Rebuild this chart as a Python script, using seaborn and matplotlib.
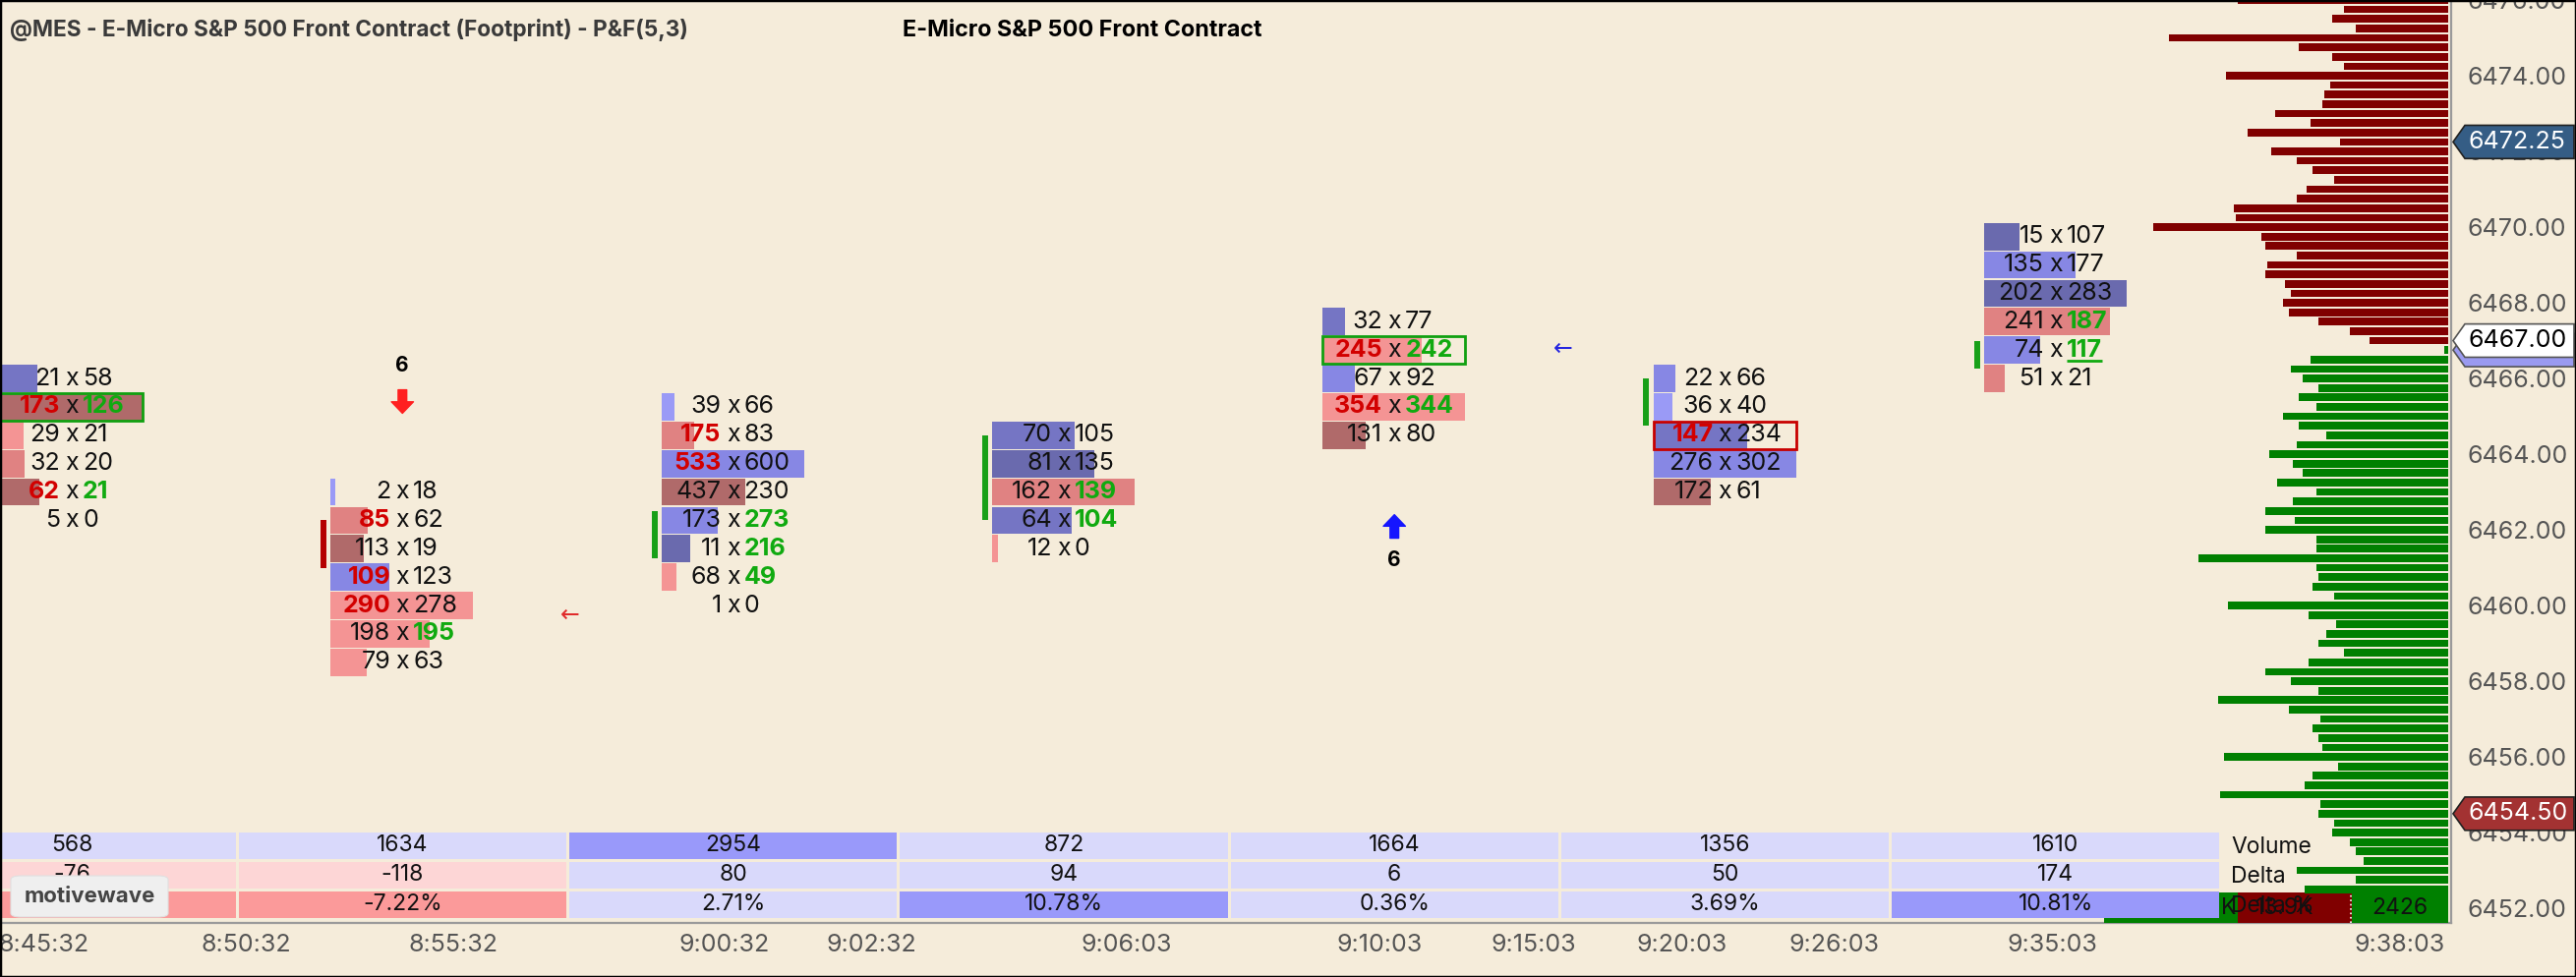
import numpy as np
import pandas as pd
import matplotlib
matplotlib.use('Agg')
import matplotlib.pyplot as plt
import matplotlib.transforms as mtransforms
from matplotlib.patches import Rectangle, Polygon, FancyBboxPatch
import seaborn as sns

# ---------------- data ----------------
chart_title = '@MES - E-Micro S&P 500 Front Contract (Footprint) - P&F(5,3)'
instrument = 'E-Micro S&P 500 Front Contract'

box_size = 0.75
col_top = [6466.0, 6463.0, 6465.25, 6464.5, 6467.5, 6466.0, 6469.75]
col_bid = [[21, 173, 29, 32, 62, 5],
           [2, 85, 113, 109, 290, 198, 79],
           [39, 175, 533, 437, 173, 11, 68, 1],
           [70, 81, 162, 64, 12],
           [32, 245, 67, 354, 131],
           [22, 36, 147, 276, 172],
           [15, 135, 202, 241, 74, 51]]
col_ask = [[58, 126, 21, 20, 21, 0],
           [18, 62, 19, 123, 278, 195, 63],
           [66, 83, 600, 230, 273, 216, 49, 0],
           [105, 135, 139, 104, 0],
           [77, 242, 92, 344, 80],
           [66, 40, 234, 302, 61],
           [107, 177, 283, 187, 117, 21]]
# cell shade: + blue (ask side), - red (bid side), 1 = light .. 4 = dark
col_shade = [[3, -3, -1, -2, -3, -1],
             [1, -2, -3, 2, -1, -1, -1],
             [1, -2, 2, -3, 2, 4, -1, -1],
             [3, 4, -2, 3, -1],
             [3, -1, 2, -1, -3],
             [2, 1, 3, 2, -3],
             [4, 2, 4, -2, 2, -2]]
bid_hl = [[1, 4], [1, 3, 4], [1, 2], [], [1, 3], [2], []]
ask_hl = [[1, 4], [5], [4, 5, 6], [2, 3], [1, 3], [], [3, 4]]
ask_underline = (6, 4)
box_rows = [(0, 1, 'green'), (4, 1, 'green'), (5, 2, 'red')]
signals = [(1, 6462.25, 6461.0, 'red'), (2, 6462.5, 6461.25, 'green'),
           (3, 6464.5, 6462.25, 'green'), (5, 6466.0, 6464.75, 'green'),
           (6, 6467.0, 6466.25, 'green')]
# reversal arrows: column, tail price, tip price, count label price
reversals = [(1, 6465.70, 6465.08, 6466.35, 'red'), (4, 6461.78, 6462.40, 6461.20, 'blue')]
box_count = 6
small_arrows = [(1.508, 6459.75, 'red'), (4.51, 6466.78, 'blue')]

time_labels = ['8:45:32', '8:50:32', '8:55:32', '9:00:32', '9:02:32', '9:06:03',
               '9:10:03', '9:15:03', '9:20:03', '9:26:03', '9:35:03', '9:38:03']
time_pos = [-0.086, 0.526, 1.154, 1.974, 2.42, 3.19, 3.955, 4.42, 4.87, 5.33, 5.99, 7.04]

bar_volume = [568, 1634, 2954, 872, 1664, 1356, 1610]
bar_delta = [-76, -118, 80, 94, 6, 50, 174]
table_rows = ['Volume', 'Delta', 'Delta %']

profile_top = 6476.0
profile_vol = [214, 106, 118, 94, 284, 152, 118, 106, 226, 120,
               126, 128, 176, 140, 204, 110, 180, 154, 138, 116,
               144, 154, 218, 216, 300, 190, 186, 154, 184, 186,
               166, 160, 168, 162, 132, 100, 80,
               4, 140, 160, 148, 132, 152, 134, 168, 152, 124,
               154, 182, 158, 148, 174, 134,
               158, 186, 156, 186, 134, 134, 254, 134, 132, 138,
               116, 224, 142, 114, 124, 132, 106, 142, 186, 160,
               132, 234, 162, 130, 138, 132, 128, 228, 112, 138,
               146, 232, 130, 132, 116, 118, 100, 94, 86, 154,
               94, 146]
last_price = 6467.00
footer_width = [98, 116, 136]
footer_text = ['2426', '13.9K', 'K']

tag_prices = [6472.25, 6466.75, 6467.00, 6454.50]
tag_colors = ['#355d85', '#9a9af0', '#ffffff', '#a33232']
tag_text_colors = ['white', 'black', 'black', 'white']

# ---------------- layout (pixels of the 2620x994 picture) ----------------
W, H = 2620, 994
PLOT_R, PLOT_B = 2493, 939
PX_COL, COL0 = 336.3, 73
PX_PT, Y6474 = 38.67, 73.3
BG = '#f5ecda'

shade_colors = {1: '#9a9af6', 2: '#8787e4', 3: '#7575c4', 4: '#6a6aae',
                -1: '#f49494', -2: '#e08282', -3: '#b06a6a'}
hl_colors = {'red': '#d20000', 'green': '#10aa10'}
sig_colors = {'red': '#b40000', 'green': '#18a018'}
arrow_colors = {'red': '#ff2020', 'blue': '#1515ff'}
small_colors = {'red': '#e02a2a', 'blue': '#2424e0'}

sns.set_theme(style='white')
plt.rcParams['font.family'] = ['Inter', 'DejaVu Sans']

fig = plt.figure(figsize=(W / 100, H / 100), dpi=100, facecolor=BG)
ax = fig.add_axes([0, (H - PLOT_B) / H, PLOT_R / W, PLOT_B / H], facecolor=BG)

xlim = (-COL0 / PX_COL, (PLOT_R - COL0) / PX_COL)
ylim = (6474 - (PLOT_B - Y6474) / PX_PT, 6474 + Y6474 / PX_PT)

# ---------------- footprint columns ----------------
bar_off = 73 / PX_COL
bar_max = 145 / PX_COL
row_h = 0.72
fp_size = 18
underline_txt = None
for k in range(len(col_top)):
    bids = np.array(col_bid[k])
    asks = np.array(col_ask[k])
    vols = bids + asks
    prices = col_top[k] - box_size * np.arange(len(bids))
    widths = vols / vols.max() * bar_max
    ax.barh(prices, widths, left=k - bar_off, height=row_h,
            color=[shade_colors[s] for s in col_shade[k]], linewidth=0, zorder=2)
    for i, (b, a, p) in enumerate(zip(bids, asks, prices)):
        hb = i in bid_hl[k]
        hs = i in ask_hl[k]
        ax.text(k - 12 / PX_COL, p, str(b), ha='right', va='center', fontsize=fp_size,
                color=hl_colors['red'] if hb else '#111111',
                fontweight='bold' if hb else 'normal', zorder=4)
        ax.text(k, p, 'x', ha='center', va='center', fontsize=fp_size, color='#111111', zorder=4)
        t = ax.text(k + 11 / PX_COL, p, str(a), ha='left', va='center', fontsize=fp_size,
                    color=hl_colors['green'] if hs else '#111111',
                    fontweight='bold' if hs else 'normal', zorder=4)
        if (k, i) == ask_underline:
            underline_txt = (t, p)

for k, i, c in box_rows:
    p = col_top[k] - box_size * i
    ax.add_patch(Rectangle((k - bar_off, p - row_h / 2), bar_max, row_h, fill=False,
                           ec='#10a010' if c == 'green' else '#c80000', lw=2, zorder=3))

for k, top, bot, c in signals:
    ax.vlines(k - bar_off - 7 / PX_COL, bot, top, color=sig_colors[c], lw=4.3, zorder=3)

for k, tail, tip, lab, c in reversals:
    ax.annotate('', xy=(k, tip), xytext=(k, tail),
                arrowprops=dict(arrowstyle='simple,head_length=0.6,head_width=1.15,tail_width=0.45',
                                color=arrow_colors[c], shrinkA=0, shrinkB=0, mutation_scale=14))
    ax.text(k, lab, str(box_count), ha='center', va='center', fontsize=15,
            fontweight='bold', color='black')

for x, p, c in small_arrows:
    ax.text(x, p, '\u2190', ha='center', va='center', fontsize=17, color=small_colors[c],
            family=['DejaVu Sans'])

# ---------------- bottom table ----------------
tb = mtransforms.blended_transform_factory(ax.transData, ax.transAxes)
cell_h = 27 / PLOT_B
pitch = 30 / PLOT_B
base = 5 / PLOT_B
gap = 1.5 / PX_COL
vmax = max(bar_volume)
for k in range(len(bar_volume)):
    vol, d = bar_volume[k], bar_delta[k]
    pct = d / vol * 100
    cells = [
        (f'{vol}', '#9999fa' if vol == vmax else '#d9d9fb'),
        (f'{d}', '#fdd6d6' if d < 0 else '#d9d9fb'),
        (f'{pct:.2f}%', ('#fb9a9a' if pct < -5 else '#9999fa') if abs(pct) > 5
         else ('#fdd6d6' if pct < 0 else '#d9d9fb')),
    ]
    for r, (txt, col) in enumerate(cells):
        y0 = base + (2 - r) * pitch
        ax.add_patch(Rectangle((k - 0.5 + gap, y0), 1 - 2 * gap, cell_h, transform=tb,
                               color=col, lw=0, zorder=6))
        ax.text(k, y0 + cell_h / 2, txt, transform=tb, ha='center', va='center',
                fontsize=16.5, color='#111111', zorder=7)
for r, name in enumerate(table_rows):
    y0 = base + (2 - r) * pitch
    ax.text(len(bar_volume) - 0.5 + 10 / PX_COL, y0 + cell_h / 2 - 0.002, name, transform=tb,
            ha='left', va='center', fontsize=16.5, color='#111111', zorder=7)

# ---------------- volume profile (seaborn) ----------------
profile_price = profile_top - 0.25 * np.arange(len(profile_vol))
prof = pd.DataFrame({'price': profile_price, 'volume': profile_vol})
prof['side'] = np.where(prof['price'] >= last_price, 'above', 'below')
ax2 = ax.twiny()
sns.barplot(data=prof, x='volume', y='price', hue='side', orient='h', native_scale=True,
            palette={'above': '#800000', 'below': '#008000'}, saturation=1, width=0.8,
            dodge=False, errorbar=None, legend=False, linewidth=0, ax=ax2)
ax2.set_xlim(PLOT_R - 3, -3)
ax2.xaxis.set_visible(False)
for s in ax2.spines.values():
    s.set_visible(False)

# profile footer (drawn on the main axes so the table stays on top)
fb = mtransforms.blended_transform_factory(ax2.transData, ax.transAxes)
foot_h = (PLOT_B - 908) / PLOT_B
foot_cols = ['#008000', '#800000', '#008000']
x0 = 0
for w, c, txt in zip(footer_width, foot_cols, footer_text):
    ax.add_patch(Rectangle((x0, 0), w, foot_h, transform=fb, color=c, lw=0, zorder=5))
    if txt == 'K':
        ax.text(x0 + 2, foot_h / 2, txt, transform=fb, ha='right', va='center',
                fontsize=16.5, color='#111111', zorder=5.5)
    else:
        ax.text(x0 + w / 2 + (10 if c == '#800000' else 0), foot_h / 2, txt, transform=fb,
                ha='center', va='center', fontsize=16.5, color='#111111', zorder=5.5)
    x0 += w
ax.plot([footer_width[0] + 1] * 2, [0, foot_h], transform=fb, color='white', lw=1.2,
        ls=':', zorder=5.6)

# ---------------- axes styling ----------------
ax.set_xlim(*xlim)
ax.set_ylim(*ylim)
ax.set_xticks(time_pos, time_labels)
ax.yaxis.tick_right()
ax.set_yticks(np.arange(6452, 6477, 2))
ax.set_yticklabels([f'{v:.2f}' for v in np.arange(6452, 6477, 2)])
ax.tick_params(axis='x', length=0, pad=8, labelsize=18, labelcolor='#555555')
ax.tick_params(axis='y', length=0, pad=12, labelsize=18, labelcolor='#555555')
ax.grid(False)
for side in ['left', 'top']:
    ax.spines[side].set_visible(False)
for side in ['right', 'bottom']:
    ax.spines[side].set_color('#9a9a9a')
    ax.spines[side].set_linewidth(1.6)
ax.set_xlabel('')
ax.set_ylabel('')

# price tags on the right axis (each later tag sits on top of the earlier ones)
tt = mtransforms.blended_transform_factory(fig.transFigure, ax.transData)
half = 17 / PX_PT
for n, (p, fc, tc) in enumerate(zip(tag_prices, tag_colors, tag_text_colors)):
    verts = [(2495 / W, p), (2507 / W, p + half), (2618 / W, p + half),
             (2618 / W, p - half), (2507 / W, p - half)]
    ec = '#555555' if fc in ('#ffffff', '#9a9af0') else '#222222'
    fig.add_artist(Polygon(verts, closed=True, transform=tt, fc=fc, ec=ec, lw=1.2,
                           clip_on=False, zorder=10 + 2 * n))
    fig.text(2511 / W, p, f'{p:.2f}', transform=tt, ha='left', va='center',
             fontsize=18, color=tc, zorder=11 + 2 * n)

# underline of the last highlighted ask
fig.canvas.draw()
t, p = underline_txt
bb = t.get_window_extent(fig.canvas.get_renderer())
inv = ax.transData.inverted()
ux0 = inv.transform((bb.x0, bb.y0))[0]
ux1 = inv.transform((bb.x1, bb.y0))[0]
ax.plot([ux0, ux1], [p - 0.29, p - 0.29], color=hl_colors['green'], lw=2, zorder=4,
        solid_capstyle='butt')

# titles, badge, frame
fig.text(10 / W, 1 - 37 / H, chart_title, ha='left', va='baseline', fontsize=16.3,
         fontweight='bold', color='#3a3a3a')
fig.text(918 / W, 1 - 37 / H, instrument, ha='left', va='baseline', fontsize=16.8,
         fontweight='bold', color='black')
fig.add_artist(FancyBboxPatch((11 / W, 1 - 933 / H), 160 / W, 42 / H,
                              boxstyle='round,pad=0,rounding_size=0.004',
                              transform=fig.transFigure, fc='#efefef', ec='#e0e0e0',
                              lw=0.8, zorder=30))
fig.text(91 / W, 1 - 912 / H, 'motivewave', ha='center', va='center', fontsize=16,
         fontweight='bold', color='#444444', zorder=31)
fig.add_artist(Rectangle((0, 0), 1, 1, transform=fig.transFigure, fill=False,
                         ec='black', lw=2.5, zorder=40))

fig.savefig('out.png', dpi=100, facecolor=BG)
